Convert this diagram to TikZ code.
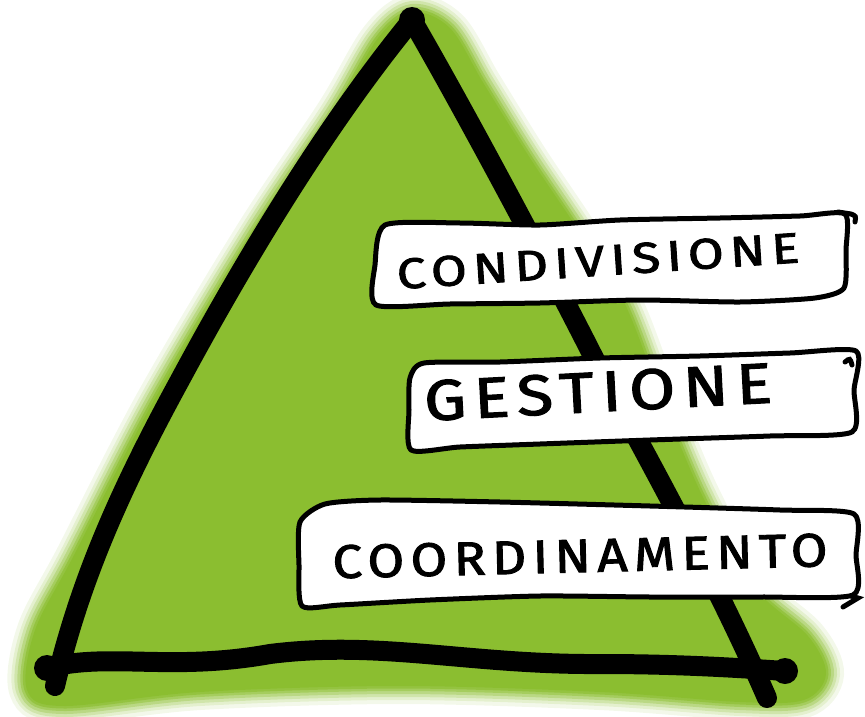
\documentclass[tikz,border=0pt]{standalone}
\usepackage{fontspec}
\setsansfont{Fira Sans}
\usepackage{graphicx}
\definecolor{leaf}{RGB}{139,190,48}
\tikzset{
  outline/.style={line width=20pt, line cap=round, line join=round, black},
  boxline/.style={line width=5pt, line cap=round, line join=round, black, fill=white},
  tick/.style={line width=5pt, line cap=round, black},
  label/.style={inner sep=0pt, font=\sffamily\addfontfeature{LetterSpace=12, FakeBold=2}}
}
\begin{document}
\begin{tikzpicture}[x=1pt, y=-1pt]
\useasboundingbox (0,0) rectangle (865,717);
% green glow
\path[save path=\greenpath] plot[smooth cycle, tension=0.55] coordinates {
 (412,12) (450,28) (484,84) (530,158) (577,228) (624,302) (662,400) (702,495)
 (752,585) (808,636) (826,674) (804,700) (740,702) (600,692) (400,686) (200,692)
 (64,706) (27,690) (35,630) (74,555) (154,400) (254,232) (334,112) (378,38)};
\foreach \w/\o in {36/0.1, 28/0.15, 22/0.22, 16/0.32, 10/0.45, 5/0.65}
  \draw[leaf, line width=\w pt, opacity=\o, use path=\greenpath];
\fill[leaf, use path=\greenpath];
% triangle corners
\coordinate (apex) at (412,20);
\coordinate (bl) at (55,686);
\coordinate (br) at (767,698);
\coordinate (blb) at (47,668);
\coordinate (brb) at (785,671);
% left side
\draw[outline] (apex) .. controls (330,120) and (250,250) .. (180,380)
  .. controls (120,490) and (80,580) .. (bl);
% right side
\draw[outline] (apex) .. controls (470,120) and (560,290) .. (600,370)
  .. controls (660,480) and (720,590) .. (br);
% bottom
\draw[outline] (blb) .. controls (110,652) and (170,672) .. (270,654)
  .. controls (380,640) and (470,665) .. (600,664)
  .. controls (680,664) and (740,668) .. (brb);
\fill (apex) circle (13pt);
\fill (blb) circle (13pt);
\fill (brb) circle (13pt);
% box 1
\draw[boxline] plot[smooth cycle, tension=0.4] coordinates {
 (385,225) (460,223) (540,225) (620,220) (720,218) (800,216) (845,214)
 (846,250) (844,288) (815,298) (740,302) (640,300) (540,303) (450,304) (376,305)
 (375,265)};
\draw[tick] (838,212) -- (851,214) .. controls (856,216) .. (855,222);
% box 2
\draw[boxline] plot[smooth cycle, tension=0.4] coordinates {
 (424,363) (500,362) (600,358) (700,356) (790,353) (856,351)
 (854,390) (852,432) (770,436) (650,440) (540,444) (460,447) (411,450)
 (409,410) (410,378)};
\draw[tick] (845,362) .. controls (850,358) .. (852,365);
% box 3
\draw[boxline] plot[smooth cycle, tension=0.4] coordinates {
 (300,522) (325,504) (380,500) (500,502) (650,506) (780,510) (854,514)
 (856,555) (853,595) (760,597) (650,597) (540,596) (430,600) (340,605) (302,606)
 (299,565)};
\draw[tick] (851,596) -- (858,598) .. controls (850,602) .. (843,607);
% labels
\node[label, rotate=3.8] (condivisione) at (598,261)
  {\resizebox{403pt}{30pt}{CONDIVISIONE}};
\node[label, rotate=3] (gestione) at (598,392)
  {\resizebox{348pt}{40pt}{GESTIONE}};
\node[label, rotate=1.4] (coordinamento) at (580,556)
  {\resizebox{495pt}{33pt}{COORDINAMENTO}};
\end{tikzpicture}
\end{document}
